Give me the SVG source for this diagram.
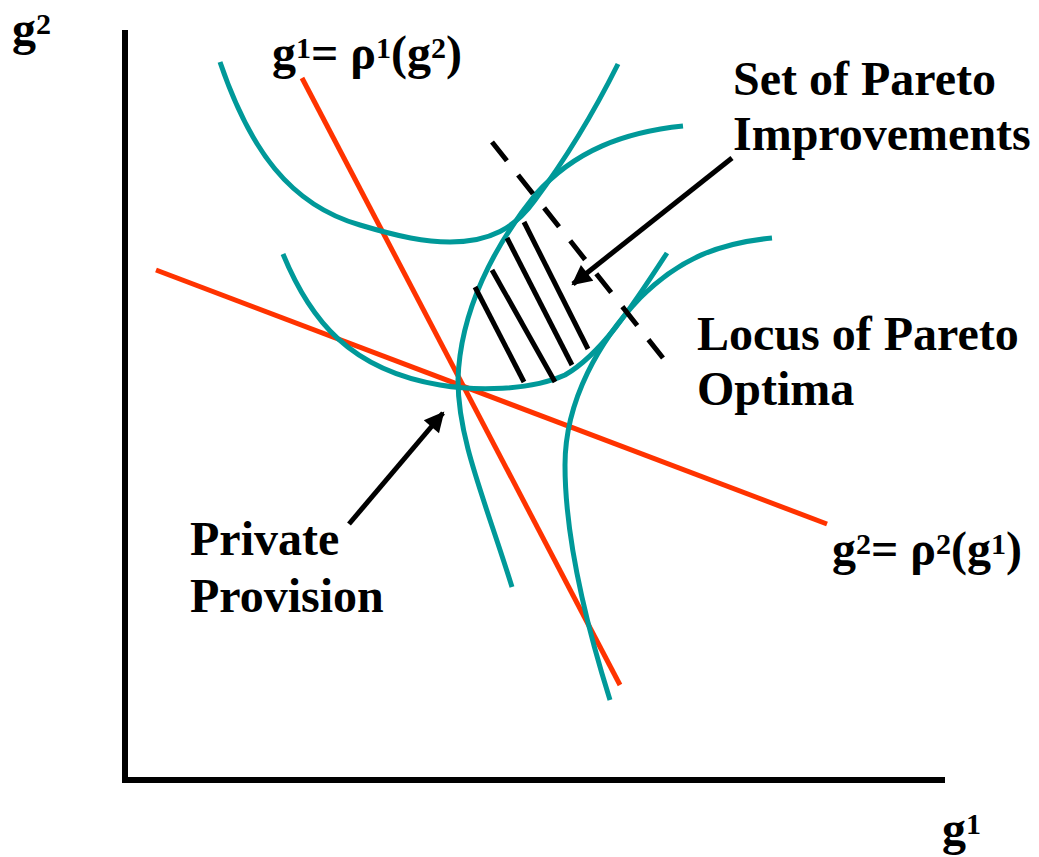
<svg xmlns="http://www.w3.org/2000/svg" width="1039" height="857" viewBox="0 0 1039 857">
  <style>
    .lbl { font-family: "Liberation Serif", "Times New Roman", serif; font-weight: bold; font-size: 48px; fill: #000; }
    .sup { font-size: 30px; }
    .axis { stroke: #000; stroke-width: 6; fill: none; }
    .teal { stroke: #009999; stroke-width: 5; fill: none; stroke-linecap: butt; }
    .red { stroke: #FF3300; stroke-width: 5; fill: none; }
    .hatch { stroke: #000; stroke-width: 5; fill: none; }
    .dash { stroke: #000; stroke-width: 5; fill: none; stroke-dasharray: 24 18; }
    .arrow { stroke: #000; stroke-width: 5; fill: none; marker-end: url(#head); }
  </style>
  <defs>
    <marker id="head" viewBox="0 0 10 10" refX="9" refY="5" markerUnits="userSpaceOnUse" markerWidth="24" markerHeight="20" orient="auto">
      <path d="M0,0 L10,5 L0,10 z" fill="#000"/>
    </marker>
  </defs>

  <g id="axes">
    <line class="axis" x1="125" y1="30" x2="125" y2="783"/>
    <line class="axis" x1="122" y1="780" x2="945" y2="780"/>
  </g>

  <g id="reaction-curves">
    <line class="red" x1="302" y1="78" x2="620" y2="685"/>
    <line class="red" x1="156" y1="270" x2="827" y2="524"/>
  </g>

  <g id="indifference-curves">
    <path class="teal" d="M220,62 C250,150 290,205 360,225 C400,237 425,242 450,242 C490,242 515,228 535,200 C565,160 595,110 618,64"/>
    <path class="teal" d="M512,587 C485,500 458,440 458,380 C460,310 495,245 535,195 C575,150 625,132 683,126"/>
    <path class="teal" d="M283,254 C310,320 350,370 440,385 C475,391 530,391 565,375 C600,355 630,310 667,253"/>
    <path class="teal" d="M610,700 C588,630 565,540 565,465 C565,400 600,340 640,298 C680,258 720,243 772,238"/>
  </g>

  <g id="pareto-improvements">
    <line class="hatch" x1="475" y1="287" x2="524" y2="382"/>
    <line class="hatch" x1="492" y1="270" x2="555" y2="382"/>
    <line class="hatch" x1="507" y1="238" x2="572" y2="365"/>
    <line class="hatch" x1="524" y1="222" x2="588" y2="349"/>
  </g>

  <g id="pareto-locus">
    <line class="dash" x1="492" y1="142" x2="663" y2="358"/>
  </g>

  <g id="connectors">
    <line class="arrow" x1="732" y1="158" x2="573" y2="284"/>
    <line class="arrow" x1="349" y1="524" x2="443" y2="413"/>
  </g>

  <g id="label-g2-axis">
    <text class="lbl" x="12" y="45">g<tspan class="sup" dy="-11">2</tspan></text>
  </g>
  <g id="label-g1-axis">
    <text class="lbl" x="942" y="845">g<tspan class="sup" dy="-11">1</tspan></text>
  </g>
  <g id="label-rho1">
    <text class="lbl" x="272" y="69">g<tspan class="sup" dy="-11">1</tspan><tspan dy="11">= ρ</tspan><tspan class="sup" dy="-11">1</tspan><tspan dy="11">(g</tspan><tspan class="sup" dy="-11">2</tspan><tspan dy="11">)</tspan></text>
  </g>
  <g id="label-rho2">
    <text class="lbl" x="832" y="565">g<tspan class="sup" dy="-11">2</tspan><tspan dy="11">= ρ</tspan><tspan class="sup" dy="-11">2</tspan><tspan dy="11">(g</tspan><tspan class="sup" dy="-11">1</tspan><tspan dy="11">)</tspan></text>
  </g>
  <g id="label-improvements">
    <text class="lbl" x="733" y="95">Set of Pareto</text>
    <text class="lbl" x="733" y="150">Improvements</text>
  </g>
  <g id="label-locus">
    <text class="lbl" x="697" y="350">Locus of Pareto</text>
    <text class="lbl" x="697" y="405">Optima</text>
  </g>
  <g id="label-private">
    <text class="lbl" x="190" y="555">Private</text>
    <text class="lbl" x="190" y="612">Provision</text>
  </g>
</svg>
